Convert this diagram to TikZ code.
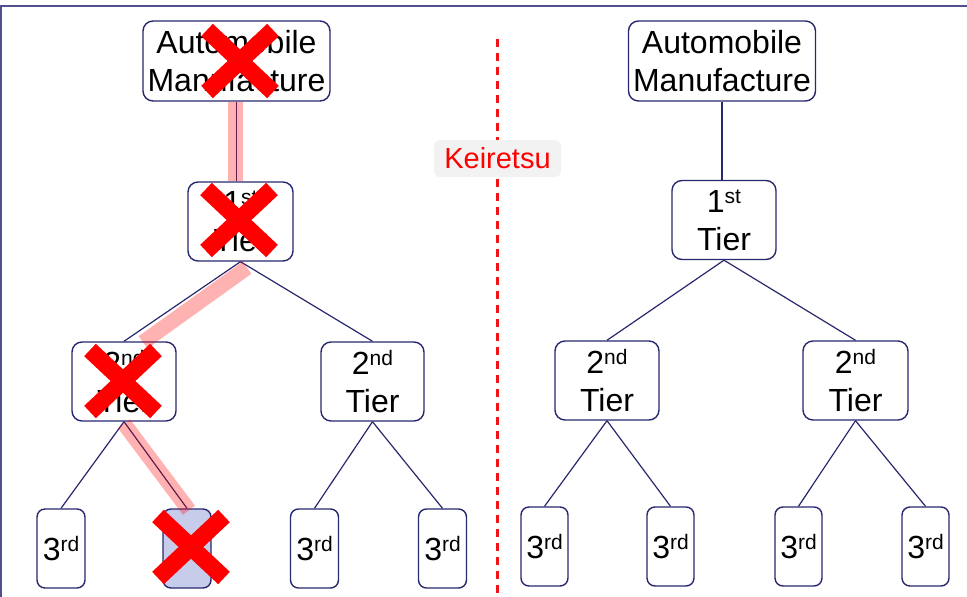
\documentclass[tikz,border=0pt]{standalone}
\usepackage{fontspec}
\setmainfont{Liberation Sans}
\usetikzlibrary{calc}
\definecolor{navy}{RGB}{40,40,110}
\definecolor{framec}{RGB}{80,80,140}
\definecolor{lav}{RGB}{200,204,235}
\definecolor{tagbg}{RGB}{242,242,242}
\definecolor{divred}{RGB}{240,20,20}
% raised ordinal suffix
\newcommand\sups[1]{\raisebox{9pt}{\fontsize{21}{21}\selectfont #1}}

\begin{document}
\begin{tikzpicture}[x=1pt,y=-1pt,
  box/.style={draw=navy,line width=1.4pt,fill=white,rounded corners=10pt,
    inner sep=0pt,align=center,font=\fontsize{32}{38}\selectfont,text=black},
  topbox/.style={box,minimum width=187pt,minimum height=80pt},
  tierbox/.style={box,minimum width=105pt,minimum height=79pt},
  leafbox/.style={box,rounded corners=8pt,minimum width=48pt,minimum height=79pt},
  link/.style={draw=navy,line width=1.2pt},
  trace/.style={draw=red,opacity=0.3,line width=15pt},
  redx/.pic={\draw[red,line width=17pt] (-33,-31)--(33,31) (-33,31)--(33,-31);}
]
\useasboundingbox (0,0) rectangle (967,597);

% frame edges
\draw[framec,line width=1.8pt] (0,6) -- (967,6);
\draw[framec,line width=1.8pt] (1,6) -- (1,597);

% dashed divider, built from short red dashes
\foreach \yy in {39,53,...,590}
  \fill[divred] (496.4,\yy) rectangle (498.6,\yy+8);
\node[fill=tagbg,rounded corners=6pt,minimum width=127pt,minimum height=37pt,inner sep=0pt,
  text=red,font=\fontsize{29}{29}\selectfont] (tag) at (497.5,158.5) {Keiretsu};

% ---------- left tree ----------
\node[topbox]  (amL) at (236.5,61)   {Automobile\\Manufacture};
\node[tierbox] (t1L) at (240.5,221.5) {1\sups{st}\\Tier};
\node[tierbox,minimum width=104pt] (t2L) at (124,381.5) {2\sups{nd}\\Tier};
\node[tierbox,minimum width=103pt] (t2M) at (372.5,381.5) {2\sups{nd}\\Tier};
\node[leafbox] (l1) at (61,548.5)  {3\sups{rd}};
\node[leafbox,fill=lav] (l2) at (187,548.5) {};
\node[leafbox] (l3) at (314.5,548.5) {3\sups{rd}};
\node[leafbox] (l4) at (442.5,548.5) {3\sups{rd}};

\draw[link] (amL.south) -- (amL.south |- t1L.north);
\draw[link] (t1L.south) -- (t2L.north);
\draw[link] (t1L.south) -- (t2M.north);
\draw[link] (t2L.south) -- (l1.north);
\draw[link] (t2L.south) -- (l2.north);
\draw[link] (t2M.south) -- (l3.north);
\draw[link] (t2M.south) -- (l4.north);

% highlighted supply path
\coordinate (p0) at ($(amL.south)+(-1,0)$);
\coordinate (p1) at ($(amL.south |- t1L.north)+(-1,0)$);
\coordinate (p2) at ($(t1L.south)+(6.5,6)$);
\coordinate (p3) at ($(t2L.north)+(19,1)$);
\coordinate (p4) at ($(t2L.south)+(0,2)$);
\coordinate (p5) at ($(l2.north)+(2,2)$);
\draw[trace] (p0) -- (p1);
\draw[trace] (p2) -- (p3);
\draw[trace] (p4) -- (p5);

% broken links
\pic at (240,61)  {redx};
\pic at (239,220) {redx};
\pic at (123,381) {redx};
\pic at (191,547) {redx};

% ---------- right tree ----------
\node[topbox]  (amR) at (722,61)   {Automobile\\Manufacture};
\node[tierbox,minimum width=104pt] (t1R) at (724,220) {1\sups{st}\\Tier};
\node[tierbox,minimum width=104pt] (t2R) at (607,380.5) {2\sups{nd}\\Tier};
\node[tierbox,minimum width=105pt] (t2S) at (855.5,380.5) {2\sups{nd}\\Tier};
\node[leafbox,minimum width=47pt] (r1) at (544.5,546.5) {3\sups{rd}};
\node[leafbox,minimum width=47pt] (r2) at (670.5,546.5) {3\sups{rd}};
\node[leafbox,minimum width=47pt] (r3) at (798.5,546.5) {3\sups{rd}};
\node[leafbox,minimum width=47pt] (r4) at (925.5,546.5) {3\sups{rd}};

\draw[link] (amR.south) -- (amR.south |- t1R.north);
\draw[link] (t1R.south) -- (t2R.north);
\draw[link] (t1R.south) -- (t2S.north);
\draw[link] (t2R.south) -- (r1.north);
\draw[link] (t2R.south) -- (r2.north);
\draw[link] (t2S.south) -- (r3.north);
\draw[link] (t2S.south) -- (r4.north);
\end{tikzpicture}
\end{document}
